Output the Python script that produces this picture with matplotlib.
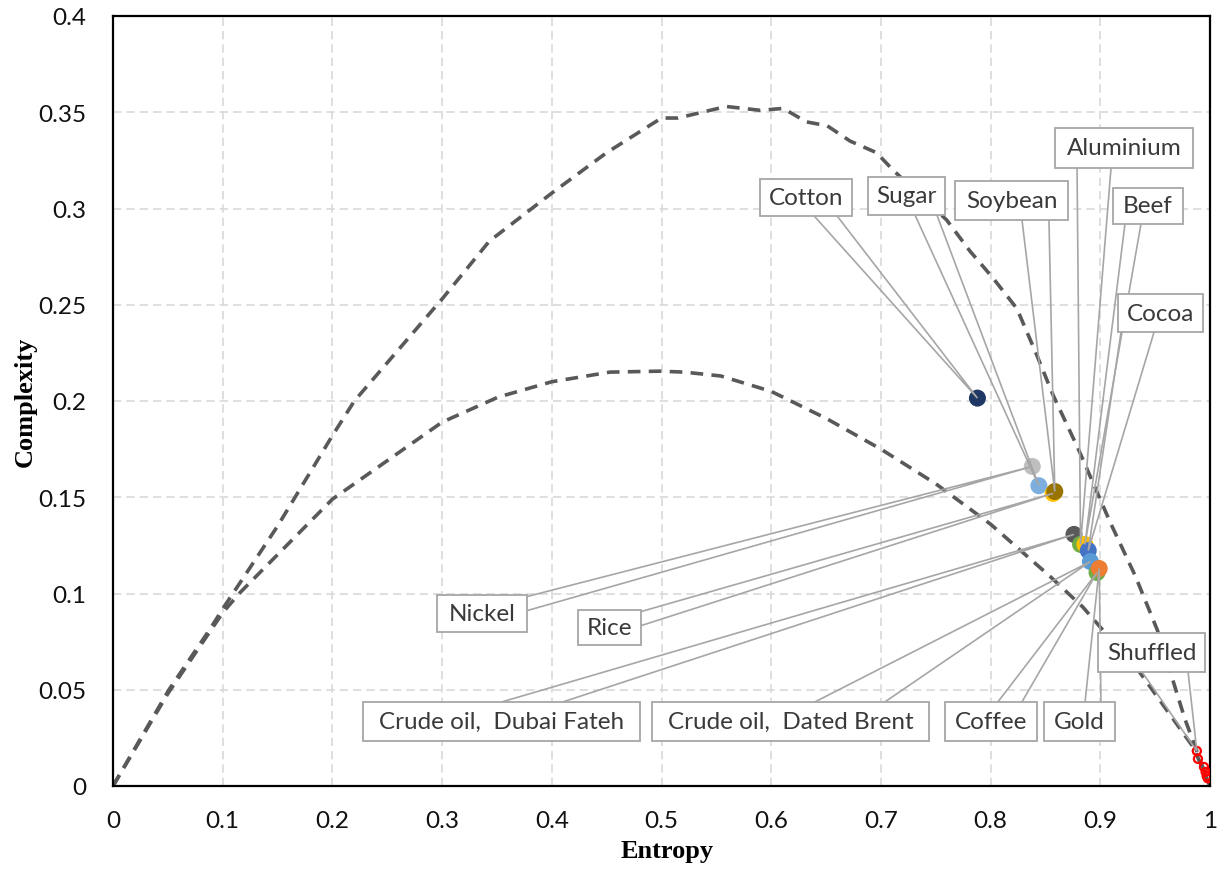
import matplotlib.pyplot as plt
from matplotlib.patches import Rectangle

# complexity-entropy bounds (dashed curves)
upper_h = [0, 0.051, 0.089, 0.1, 0.15, 0.2, 0.22, 0.3, 0.343, 0.4, 0.45, 0.5, 0.515,
           0.559, 0.59, 0.611, 0.632, 0.651, 0.672, 0.696, 0.711, 0.76, 0.781, 0.802,
           0.824, 0.842, 0.857, 0.88, 0.909, 0.932, 0.952, 0.977, 0.99, 1.0]
upper_c = [0, 0.05, 0.082, 0.092, 0.135, 0.182, 0.2, 0.253, 0.283, 0.308, 0.329, 0.347, 0.347,
           0.353, 0.351, 0.352, 0.345, 0.343, 0.335, 0.329, 0.32, 0.294, 0.278, 0.264,
           0.248, 0.224, 0.203, 0.175, 0.137, 0.109, 0.081, 0.035, 0.015, 0]
lower_h = [0, 0.05, 0.1, 0.115, 0.2, 0.3, 0.351, 0.4, 0.453, 0.498, 0.521, 0.554, 0.6,
           0.65, 0.7, 0.75, 0.8, 0.828, 0.854, 0.884, 0.936, 0.985, 1.0]
lower_c = [0, 0.048, 0.09, 0.1, 0.149, 0.189, 0.202, 0.21, 0.215, 0.2155, 0.215, 0.213, 0.205,
           0.191, 0.175, 0.157, 0.136, 0.122, 0.109, 0.093, 0.059, 0.02, 0]

# commodities
names = ['Cotton', 'Nickel', 'Sugar', 'Rice', 'Soybean', 'Crude oil,  Dubai Fateh',
         'Aluminium', 'Beef', 'Cocoa', 'Crude oil,  Dated Brent', 'Coffee', 'Gold']
entropy = [0.788, 0.838, 0.844, 0.857, 0.8585, 0.876, 0.882, 0.886, 0.889, 0.891, 0.897, 0.899]
complexity = [0.2015, 0.166, 0.156, 0.152, 0.153, 0.1307, 0.1255, 0.1255, 0.1223, 0.1166, 0.1109, 0.113]
colors = ['#203864', '#bfbfbf', '#7cafdd', '#ffc000', '#997300', '#595959',
          '#70ad47', '#ffc000', '#4472c4', '#5b9bd5', '#70ad47', '#ed7d31']

# shuffled series
shuf_h = [0.988, 0.989, 0.9945, 0.996, 0.997, 0.998]
shuf_c = [0.0182, 0.0141, 0.0099, 0.0073, 0.0052, 0.004]

xticks = [0, 0.1, 0.2, 0.3, 0.4, 0.5, 0.6, 0.7, 0.8, 0.9, 1]
yticks = [0, 0.05, 0.1, 0.15, 0.2, 0.25, 0.3, 0.35, 0.4]

# callout boxes: (x0, x1, y0, y1) and the two base points of the wedge
boxes = {
    'Cotton': ((0.5898, 0.6737, 0.2962, 0.3155), (0.639, 0.2962), (0.660, 0.2962)),
    'Sugar': ((0.6882, 0.7584, 0.2967, 0.3165), (0.731, 0.2967), (0.751, 0.2967)),
    'Soybean': ((0.7676, 0.8706, 0.2941, 0.3144), (0.8286, 0.2941), (0.8532, 0.2941)),
    'Aluminium': ((0.8587, 0.9845, 0.3212, 0.3420), (0.8788, 0.3212), (0.9098, 0.3212)),
    'Beef': ((0.9116, 0.9754, 0.2921, 0.3108), (0.9225, 0.2921), (0.9371, 0.2921)),
    'Cocoa': ((0.9161, 0.9936, 0.2358, 0.2556), (0.9189, 0.2358), (0.9490, 0.2358)),
    'Nickel': ((0.2954, 0.3774, 0.0802, 0.0994), (0.3774, 0.0984), (0.3774, 0.0911)),
    'Rice': ((0.4239, 0.4813, 0.0734, 0.0916), (0.4813, 0.0906), (0.4813, 0.0833)),
    'Crude oil,  Dubai Fateh': ((0.2279, 0.4804, 0.0234, 0.0437), (0.3546, 0.0437), (0.4102, 0.0437)),
    'Crude oil,  Dated Brent': ((0.4913, 0.7438, 0.0234, 0.0437), (0.6399, 0.0437), (0.7037, 0.0437)),
    'Coffee': ((0.7584, 0.8423, 0.0234, 0.0437), (0.8067, 0.0437), (0.8286, 0.0437)),
    'Gold': ((0.8487, 0.9134, 0.0234, 0.0437), (0.8861, 0.0437), (0.9006, 0.0437)),
}
shuf_box = ((0.8979, 0.9954, 0.0593, 0.0796), (0.938, 0.0593), (0.980, 0.0593))

fig = plt.figure(figsize=(12.23, 8.70), dpi=100)
ax = fig.add_axes([113 / 1223, 1 - 787 / 870, 1097 / 1223, 770 / 870])

ax.plot(upper_h, upper_c, color='#595959', lw=2.6, dashes=(3.5, 2.3), zorder=2)
ax.plot(lower_h, lower_c, color='#595959', lw=2.6, dashes=(3.5, 2.3), zorder=2)

for h, c, col in zip(entropy, complexity, colors):
    ax.scatter(h, c, s=150, color=col, edgecolors='none', zorder=3)
ax.scatter(shuf_h, shuf_c, s=34, facecolors='none', edgecolors='#ff0000', linewidths=1.6, zorder=3)

line_col = '#a6a6a6'


def callout(label, box, b1, b2, target):
    x0, x1, y0, y1 = box
    ax.plot([b1[0], target[0], b2[0]], [b1[1], target[1], b2[1]],
            color=line_col, lw=1.2, zorder=4, solid_joinstyle='miter')
    ax.add_patch(Rectangle((x0, y0), x1 - x0, y1 - y0, facecolor='white',
                           edgecolor=line_col, lw=1.3, zorder=5))
    ax.text((x0 + x1) / 2, (y0 + y1) / 2, label, ha='center', va='center',
            fontsize=17.5, family='Lato', color='#3a3a3a', zorder=6)


for i, name in enumerate(names):
    box, b1, b2 = boxes[name]
    callout(name, box, b1, b2, (entropy[i], complexity[i]))
callout('Shuffled', shuf_box[0], shuf_box[1], shuf_box[2], (shuf_h[0], shuf_c[0]))

ax.set_xlim(0, 1)
ax.set_ylim(0, 0.4)
ax.set_xticks(xticks)
ax.set_yticks(yticks)
ax.set_xticklabels([f'{v:g}' for v in xticks])
ax.set_yticklabels([f'{v:g}' for v in yticks])
ax.tick_params(length=0, labelsize=17.5, colors='#111111')
ax.tick_params(axis='x', pad=17)
ax.tick_params(axis='y', pad=19)
for lab in ax.get_xticklabels() + ax.get_yticklabels():
    lab.set_family('Lato')

ax.grid(True, color='#d9d9d9', lw=1.2, dashes=(5, 3))
ax.set_axisbelow(True)
for sp in ax.spines.values():
    sp.set_color('#000000')
    sp.set_linewidth(1.6)

fig.text(25 / 1223, 1 - 402 / 870, 'Complexity', rotation=90, ha='center', va='center',
         fontsize=19, fontweight='bold', family='Liberation Serif')
fig.text(667 / 1223, 1 - 852 / 870, 'Entropy', ha='center', va='center',
         fontsize=19, fontweight='bold', family='Liberation Serif')

fig.savefig('out.png', dpi=100)
